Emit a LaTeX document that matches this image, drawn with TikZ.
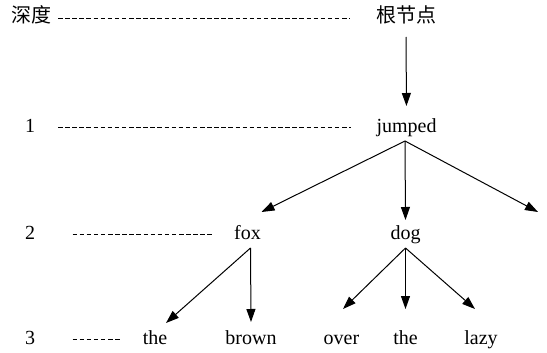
\documentclass[tikz,border=0pt]{standalone}
\usepackage{fontspec}
\setmainfont{Liberation Serif}
\newfontfamily\cjk{Noto Sans CJK SC}
\usetikzlibrary{arrows.meta}

\tikzset{
    word/.style={font=\fontsize{20}{24}\selectfont, inner sep=0pt, outer sep=5pt, text height=14pt, text depth=4pt},
    depthline/.style={line width=0.8pt, dash pattern=on 4.5pt off 2.6pt},
    edge/.style={line width=1pt, -{Triangle[length=13pt, width=9pt]}},
}

\begin{document}
\begin{tikzpicture}[x=1pt, y=-1pt]
            \useasboundingbox (0,0) rectangle (547,353);

            % Depth column
            \node[word] (depth-0) at (31.5,18) {\cjk 深度};
            \node[word] (depth-1) at (30,127) {1};
            \node[word] (depth-2) at (30,234) {2};
            \node[word] (depth-3) at (30,339) {3};

            % Tree words
            \node[word] (word-root) at (406,18) {\cjk 根节点};
            \node[word] (word-jumped) at (406.5,127) {jumped};
            \node[word] (word-fox) at (247.5,234) {fox};
            \node[word] (word-dog) at (405.5,234) {dog};
            \node[word] (word-the-a) at (155,339) {the};
            \node[word] (word-brown) at (251,339) {brown};
            \node[word] (word-over) at (341.5,339) {over};
            \node[word] (word-the-b) at (405.5,339) {the};
            \node[word] (word-lazy) at (481,339) {lazy};
            \coordinate (cut-off) at (538,212);

            % Dashed depth lines
            \draw[depthline, shorten <=1.5pt, shorten >=21pt] (depth-0.east) -- (word-root.west);
            \draw[depthline, shorten <=18pt, shorten >=21pt] (depth-1.east) -- (word-jumped.west);
            \draw[depthline, shorten <=32.5pt, shorten >=17pt] (depth-2.east) -- (word-fox.west);
            \draw[depthline, shorten <=32.5pt, shorten >=16pt] (depth-3.east) -- (word-the-a.west);

            % Arrows
            \draw[edge, shorten <=5pt, shorten >=7pt] (word-root.south) -- (word-jumped.north);
            \draw[edge] ([xshift=-1.5pt]word-jumped.south) -- ([shift={(14,-8)}]word-fox.north);
            \draw[edge] ([xshift=-1.5pt]word-jumped.south) -- (word-dog.north);
            \draw[edge] ([xshift=-1.5pt]word-jumped.south) -- (cut-off);
            \draw[edge] ([shift={(3,0)}]word-fox.south) -- ([shift={(11,-2)}]word-the-a.north);
            \draw[edge] ([shift={(3,0)}]word-fox.south) -- ([shift={(0,-3)}]word-brown.north);
            \draw[edge] (word-dog.south) -- ([shift={(1.5,-16)}]word-over.north);
            \draw[edge] (word-dog.south) -- ([shift={(0,-16)}]word-the-b.north);
            \draw[edge] (word-dog.south) -- ([shift={(-6,-16)}]word-lazy.north);
\end{tikzpicture}
\end{document}
